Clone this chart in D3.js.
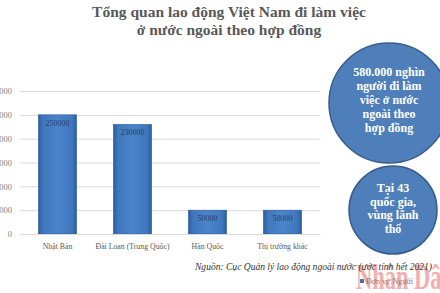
<!DOCTYPE html>
<html>
<head>
<meta charset="utf-8">
<script src="https://cdn.jsdelivr.net/npm/d3@7"></script>
<style>
  body { margin: 0; background: #fff; }
  svg { display: block; }
</style>
</head>
<body>
<svg id="chart"></svg>
<script>
// data
const categories = ["Nhật Bản", "Đài Loan (Trung Quốc)", "Hàn Quốc", "Thị trường khác"];
const values = [250000, 230000, 50000, 50000];
const yTicks = [0, 50000, 100000, 150000, 200000, 250000, 300000];
const titleLines = ["Tổng quan lao động Việt Nam đi làm việc", "ở nước ngoài theo hợp đồng"];
const bigCircleLines = ["580.000 nghìn", "người đi làm", "việc ở nước", "ngoài theo", "hợp đồng"];
const smallCircleLines = ["Tại 43", "quốc gia,", "vùng lãnh", "thổ"];
const sourceText = "Nguồn: Cục Quản lý lao động ngoài nước (ước tính hết 2021)";
const legendText = "Đơn vị: Người";

const width = 440, height = 293;
const margin = { top: 91, bottom: 59, left: 20, right: 120 };
const serif = "'Liberation Serif', 'DejaVu Serif', serif";

const svg = d3.select("#chart")
    .attr("width", width)
    .attr("height", height);

const defs = svg.append("defs");
const grad = defs.append("linearGradient")
    .attr("id", "barGrad")
    .attr("x1", "0").attr("x2", "1").attr("y1", "0").attr("y2", "0");
grad.append("stop").attr("offset", "0%").attr("stop-color", "#2c5d9c");
grad.append("stop").attr("offset", "12%").attr("stop-color", "#3f77bd");
grad.append("stop").attr("offset", "50%").attr("stop-color", "#4a84ca");
grad.append("stop").attr("offset", "88%").attr("stop-color", "#3f77bd");
grad.append("stop").attr("offset", "100%").attr("stop-color", "#2c5d9c");

const innerW = width - margin.left - margin.right;
const innerH = height - margin.top - margin.bottom;

const x = d3.scaleBand()
    .domain(categories)
    .range([0, innerW])
    .paddingInner(0.49)
    .paddingOuter(0.245);

const y = d3.scaleLinear()
    .domain([0, 300000])
    .range([innerH, 0]);

const chart = svg.append("g")
    .attr("transform", `translate(${margin.left},${margin.top})`);

// gridlines + y labels
const yAxis = d3.axisLeft(y)
    .tickValues(yTicks)
    .tickSize(-innerW)
    .tickPadding(8)
    .tickFormat(d3.format("d"));

const yAxisG = chart.append("g").call(yAxis);
yAxisG.select(".domain").remove();
yAxisG.selectAll("line").attr("stroke", "#d9d9d9");
yAxisG.selectAll("text")
    .attr("fill", "#7f7f7f")
    .attr("font-family", serif)
    .attr("font-size", 8.5);

// bars
chart.selectAll("rect.bar")
    .data(categories)
  .join("rect")
    .attr("class", "bar")
    .attr("x", d => x(d))
    .attr("y", (d, i) => y(values[i]))
    .attr("width", x.bandwidth())
    .attr("height", (d, i) => innerH - y(values[i]))
    .attr("fill", "url(#barGrad)")
    .attr("stroke", "#2f5f9e")
    .attr("stroke-width", 0.6);

// value labels
chart.selectAll("text.val")
    .data(categories)
  .join("text")
    .attr("class", "val")
    .attr("x", d => x(d) + x.bandwidth() / 2)
    .attr("y", (d, i) => y(values[i]) + 11)
    .attr("text-anchor", "middle")
    .attr("font-family", serif)
    .attr("font-size", 8)
    .attr("fill", "#2a3f63")
    .text((d, i) => values[i]);

// x axis labels
const xAxis = d3.axisBottom(x).tickSize(0).tickPadding(9);
const xAxisG = chart.append("g")
    .attr("transform", `translate(0,${innerH})`)
    .call(xAxis);
xAxisG.select(".domain").attr("stroke", "#d9d9d9");
xAxisG.selectAll("text")
    .attr("fill", "#595959")
    .attr("font-family", serif)
    .attr("font-size", 7.8);

// title
svg.append("g")
    .selectAll("text")
    .data(titleLines)
  .join("text")
    .attr("x", 229)
    .attr("y", (d, i) => 17 + i * 18)
    .attr("text-anchor", "middle")
    .attr("font-family", serif)
    .attr("font-weight", "bold")
    .attr("font-size", 15.5)
    .attr("fill", "#595959")
    .text(d => d);

// circles
function bubble(cx, cy, r, lines, y0, step) {
  const g = svg.append("g");
  g.append("circle")
      .attr("cx", cx).attr("cy", cy).attr("r", r)
      .attr("fill", "#4f7fba")
      .attr("stroke", "#385d8a")
      .attr("stroke-width", 1.5);
  g.selectAll("text")
      .data(lines)
    .join("text")
      .attr("x", cx)
      .attr("y", (d, i) => y0 + i * step)
      .attr("text-anchor", "middle")
      .attr("font-family", serif)
      .attr("font-weight", "bold")
      .attr("font-size", 12)
      .attr("fill", "#ffffff")
      .text(d => d);
}
bubble(389, 103, 60, bigCircleLines, 76, 14);
bubble(393, 210, 44, smallCircleLines, 192, 13.5);

// watermark
svg.append("text")
    .attr("x", 356)
    .attr("y", 289)
    .attr("font-family", serif)
    .attr("font-weight", "bold")
    .attr("font-size", 36)
    .attr("textLength", 98)
    .attr("lengthAdjust", "spacingAndGlyphs")
    .attr("fill", "#f29a9a")
    .attr("opacity", 0.8)
    .text("Nhân Dân");

// source
svg.append("text")
    .attr("x", 432)
    .attr("y", 270)
    .attr("text-anchor", "end")
    .attr("font-family", serif)
    .attr("font-style", "italic")
    .attr("font-size", 10.5)
    .attr("textLength", 237)
    .attr("lengthAdjust", "spacingAndGlyphs")
    .attr("fill", "#333333")
    .text(sourceText);

// legend
svg.append("rect")
    .attr("x", 360).attr("y", 279)
    .attr("width", 4).attr("height", 4)
    .attr("fill", "#3d74ba");
svg.append("text")
    .attr("x", 366)
    .attr("y", 284)
    .attr("font-family", serif)
    .attr("font-size", 8)
    .attr("fill", "#7f7f7f")
    .text(legendText);
</script>
</body>
</html>
